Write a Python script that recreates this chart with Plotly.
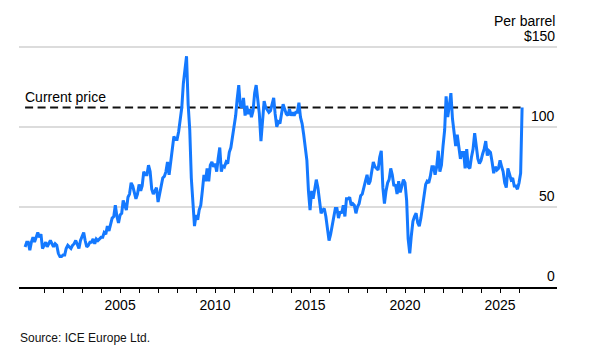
import pandas as pd
import plotly.graph_objects as go

# Brent crude, approximate monthly readings (USD per barrel), Jan 2000 - Feb 2026
prices_2000 = [25, 28, 28, 23, 28, 31, 28, 31, 34, 31, 33, 24]
prices_2001 = [26, 28, 25, 27, 29, 27, 25, 27, 26, 21, 19, 19]
prices_2002 = [20, 20, 24, 26, 25, 24, 26, 27, 29, 27, 24, 29]
prices_2003 = [31, 34, 29, 25, 26, 28, 28, 30, 27, 30, 29, 30]
prices_2004 = [31, 31, 34, 33, 38, 35, 39, 43, 44, 51, 44, 40]
prices_2005 = [45, 46, 54, 51, 48, 56, 58, 65, 63, 59, 55, 58]
prices_2006 = [64, 60, 63, 72, 70, 70, 76, 72, 61, 58, 60, 62]
prices_2007 = [53, 58, 63, 68, 69, 72, 78, 70, 78, 85, 94, 92]
prices_2008 = [92, 97, 104, 112, 127, 135, 144, 114, 98, 68, 50, 38]
prices_2009 = [45, 42, 48, 51, 60, 70, 66, 74, 66, 76, 78, 75]
prices_2010 = [77, 72, 80, 87, 72, 76, 75, 78, 77, 84, 87, 93]
prices_2011 = [98, 107, 117, 126, 113, 112, 118, 107, 113, 108, 111, 106]
prices_2012 = [110, 121, 126, 118, 108, 91, 104, 116, 112, 110, 109, 110]
prices_2013 = [114, 118, 108, 100, 103, 102, 108, 114, 111, 108, 107, 111]
prices_2014 = [107, 109, 107, 109, 109, 115, 106, 102, 95, 86, 79, 60]
prices_2015 = [48, 60, 55, 61, 67, 62, 54, 46, 48, 49, 44, 37]
prices_2016 = [29, 33, 39, 43, 49, 49, 43, 47, 46, 51, 44, 55]
prices_2017 = [55, 56, 51, 52, 51, 46, 50, 52, 57, 58, 63, 66]
prices_2018 = [70, 64, 66, 74, 78, 75, 74, 73, 81, 85, 62, 52]
prices_2019 = [60, 65, 67, 74, 70, 63, 64, 58, 66, 59, 63, 67]
prices_2020 = [65, 54, 30, 21, 32, 41, 44, 46, 40, 38, 43, 50]
prices_2021 = [55, 64, 66, 65, 69, 75, 75, 70, 75, 85, 72, 76]
prices_2022 = [88, 98, 119, 106, 113, 121, 105, 98, 88, 95, 87, 80]
prices_2023 = [84, 84, 74, 86, 75, 74, 81, 86, 96, 88, 80, 77]
prices_2024 = [79, 83, 86, 91, 82, 85, 84, 78, 71, 75, 73, 74]
prices_2025 = [79, 75, 72, 65, 62, 74, 70, 67, 68, 63, 63, 61]
prices_2026 = [65, 71]
latest_date = "2026-03-01"
latest_price = 112

monthly = (prices_2000 + prices_2001 + prices_2002 + prices_2003 + prices_2004 +
           prices_2005 + prices_2006 + prices_2007 + prices_2008 + prices_2009 +
           prices_2010 + prices_2011 + prices_2012 + prices_2013 + prices_2014 +
           prices_2015 + prices_2016 + prices_2017 + prices_2018 + prices_2019 +
           prices_2020 + prices_2021 + prices_2022 + prices_2023 + prices_2024 +
           prices_2025 + prices_2026)
dates = [d.strftime("%Y-%m-%d") for d in pd.date_range("2000-01-01", periods=len(monthly), freq="MS")]
dates.append(latest_date)
values = monthly + [latest_price]

year_labels = [2005, 2010, 2015, 2020, 2025]
minor_years = list(range(2001, 2027))
y_ticks = [0, 50, 100]
y_top = 150

FONT = "Liberation Sans, Arial, Helvetica, sans-serif"
BLUE = "#1479ff"

fig = go.Figure()
fig.add_trace(go.Scatter(
    x=[dates[0], dates[-1]], y=[latest_price, latest_price],
    mode="lines", line=dict(color="#111111", width=2, dash="8px,4.5px"),
    hoverinfo="skip", showlegend=False))
fig.add_trace(go.Scatter(
    x=dates, y=values, mode="lines",
    line=dict(color=BLUE, width=3, shape="linear"),
    showlegend=False))

annotations = []
for v in y_ticks:
    annotations.append(dict(x=1, xref="paper", y=v, yref="y", text=str(v),
                            showarrow=False, xanchor="right", yanchor="bottom",
                            yshift=1, font=dict(family=FONT, size=14, color="#000")))
annotations.append(dict(x=1, xref="paper", y=y_top, yref="y", text="$" + str(y_top),
                        showarrow=False, xanchor="right", yanchor="bottom",
                        yshift=1, font=dict(family=FONT, size=14, color="#000")))
annotations.append(dict(x=1, xref="paper", y=y_top, yref="y", text="Per barrel",
                        showarrow=False, xanchor="right", yanchor="bottom",
                        yshift=16, font=dict(family=FONT, size=14, color="#000")))
annotations.append(dict(x=dates[0], xref="x", y=latest_price, yref="y", text="Current price",
                        showarrow=False, xanchor="left", yanchor="bottom",
                        yshift=1, xshift=-2, font=dict(family=FONT, size=14, color="#000")))
annotations.append(dict(x=0, xref="paper", y=0, yref="paper", text="Source: ICE Europe Ltd.",
                        showarrow=False, xanchor="left", yanchor="top",
                        yshift=-42, xshift=-1, font=dict(family=FONT, size=12, color="#111")))

# page body has an 8px default margin, so the figure is sized to fit the 597x359 window
fig.update_layout(
    width=589, height=351,
    margin=dict(l=11, r=40, t=37, b=72),
    paper_bgcolor="white", plot_bgcolor="white",
    font=dict(family=FONT, size=14, color="#000"),
    annotations=annotations,
    hovermode="x",
)
fig.update_xaxes(
    type="date",
    range=["1999-09-06", "2028-01-01"],
    tickvals=[f"{y}-01-01" for y in year_labels],
    ticktext=[str(y) for y in year_labels],
    ticks="outside", ticklen=4, tickwidth=1, tickcolor="#000",
    showgrid=False, zeroline=False,
    showline=True, linecolor="#000", linewidth=2,
    tickfont=dict(family=FONT, size=14, color="#000"),
    minor=dict(tickvals=[f"{y}-01-01" for y in minor_years], ticks="outside",
               ticklen=4, tickwidth=1, tickcolor="#000", showgrid=False),
)
fig.update_yaxes(
    range=[0, 151],
    tickvals=y_ticks + [y_top],
    showticklabels=False,
    showgrid=True, gridcolor="#dcdcdc", gridwidth=1.5,
    zeroline=False, showline=False,
    fixedrange=True,
)

fig.write_html("out.html")
